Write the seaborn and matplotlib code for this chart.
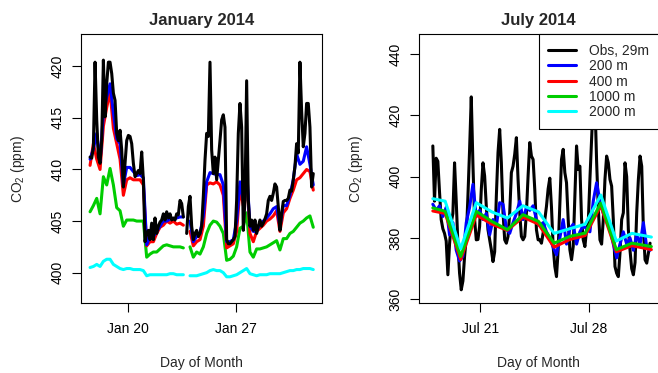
import numpy as np
import pandas as pd
import matplotlib
matplotlib.use('Agg')
import matplotlib.pyplot as plt
from matplotlib.lines import Line2D
import seaborn as sns

sns.set_style('ticks')
plt.rcParams['font.family'] = ['Liberation Sans', 'DejaVu Sans']
plt.rcParams['mathtext.fontset'] = 'custom'
plt.rcParams['mathtext.rm'] = 'Liberation Sans'
plt.rcParams['mathtext.it'] = 'Liberation Sans:italic'
plt.rcParams['mathtext.bf'] = 'Liberation Sans:bold'
plt.rcParams['lines.solid_capstyle'] = 'round'
plt.rcParams['lines.solid_joinstyle'] = 'round'

nan = np.nan
SERIES = ['Obs, 29m', '200 m', '400 m', '1000 m', '2000 m']
COLORS = ['#000000', '#0000FF', '#FF0000', '#00CD00', '#00FFFF']

# January 2014, obs about every 2.6 h, model lines about every 5 h
JAN_START, JAN_END = '2014-01-17 14:00', '2014-01-31 23:00'
JAN_OBS = [411.2, 411.1, 412.2, 420.4, 414.8, 411.2, 410.6, 412.8, 420.6, 415.1,
           418.3, 420.4, 420.4, 419.3, 417.4, 416.7, 413.5, 412.8, 413.8, 411.9,
           408.3, 410.6, 412.8, 413.3, 413.2, 412.5, 410.6, 409.3, 409.6, 409.9,
           409.6, 411.7, 409.0, 403.0, 403.8, 404.1, 403.2, 404.8, 403.2, 405.3,
           403.8, 404.5, 404.9, 405.1, 405.7, 405.1, 405.9, 405.3, 405.7, 405.1,
           405.3, 405.1, 405.7, 405.6, 407.0, 406.7, 405.4, nan, 403.8, 406.4,
           407.4, 404.5, 403.2, 403.8, 404.1, 403.5, 403.8, 404.5, 407.4, 410.9,
           413.5, 413.2, 420.4, 411.9, 409.6, 411.2, 409.0, 410.9, 412.8, 414.8,
           415.3, 414.1, 403.2, 402.8, 402.8, 403.0, 403.2, 403.5, 407.0, 413.5,
           416.4, 414.1, 404.1, 407.0, 418.6, 407.0, 404.5, 405.1, 404.1, 405.1,
           403.8, 404.5, 405.1, 404.5, 404.8, 405.2, 405.7, 407.0, 407.4, 407.0,
           407.7, 408.6, 408.3, 406.4, 404.1, 405.7, 406.9, 407.0, 407.0, 407.2,
           408.0, 407.9, 409.0, 410.3, 412.5, 411.6, 420.4, 415.7, 412.2, 413.5,
           416.4, 416.4, 414.1, 408.3, 409.6]
JAN_200 = [411.0, 412.0, 413.5, 410.7, 415.5, 417.0, 418.3, 415.5, 413.0, 412.5,
           408.5, 410.2, 410.2, 409.8, 409.4, 409.5, 409.2, 402.7, 403.5, 403.5,
           404.0, 404.5, 405.0, 405.0, 405.2, 405.2, 405.3, 405.4, 405.4, nan,
           405.0, 403.0, 403.5, 403.8, 405.5, 408.8, 409.7, 409.6, 409.5, 409.5,
           408.5, 403.0, 403.0, 403.2, 405.0, 408.8, 407.0, 410.0, 404.5, 404.0,
           404.0, 404.8, 405.0, 405.3, 405.7, 406.2, 406.4, 404.5, 406.5, 406.5,
           407.5, 409.0, 411.5, 410.5, 410.8, 412.2, 410.5, 408.5]
JAN_400 = [410.4, 412.5, 411.0, 410.0, 414.2, 416.0, 417.6, 414.0, 412.5, 411.0,
           407.5, 409.0, 409.2, 409.0, 409.0, 409.0, 408.5, 402.6, 403.0, 403.0,
           403.8, 404.4, 404.6, 405.0, 404.8, 405.0, 404.7, 404.8, 404.6, nan,
           404.0, 402.6, 403.0, 403.2, 404.5, 408.5, 408.7, 408.6, 408.8, 408.5,
           407.5, 402.4, 402.6, 402.8, 404.0, 408.2, 406.5, 409.5, 403.8, 403.0,
           404.0, 404.3, 404.6, 405.0, 405.2, 405.5, 406.0, 404.0, 405.8, 406.2,
           407.2, 408.0, 409.0, 409.2, 409.6, 410.0, 409.8, 408.0]
JAN_1000 = [405.9, 406.5, 407.2, 405.7, 409.3, 408.5, 410.1, 408.5, 406.3, 406.0,
            404.5, 405.1, 405.1, 405.1, 405.0, 405.0, 405.0, 401.5, 401.8, 402.0,
            402.0, 402.3, 402.6, 402.7, 402.6, 402.5, 402.5, 402.5, 402.4, nan,
            402.5, 401.5, 402.0, 401.8, 402.5, 403.8, 404.6, 405.0, 404.9, 404.5,
            403.8, 401.2, 401.3, 401.6, 402.5, 404.3, 404.5, 405.8, 402.0, 401.5,
            402.3, 402.3, 402.4, 402.5, 402.7, 402.9, 403.1, 402.2, 403.3, 403.3,
            403.8, 404.0, 404.4, 404.8, 405.0, 405.3, 405.5, 404.4]
JAN_2000 = [400.5, 400.6, 400.8, 400.6, 401.1, 401.3, 401.3, 400.8, 400.6, 400.4,
            400.3, 400.4, 400.4, 400.3, 400.3, 400.3, 400.2, 399.7, 399.8, 399.8,
            399.8, 399.8, 399.8, 399.8, 399.9, 399.9, 399.8, 399.8, 399.8, nan,
            399.7, 399.7, 399.7, 399.8, 399.9, 400.0, 400.2, 400.3, 400.2, 400.2,
            400.0, 399.6, 399.6, 399.7, 399.8, 400.0, 400.2, 400.4, 399.9, 399.8,
            399.7, 399.8, 399.8, 399.8, 399.9, 399.9, 399.9, 399.9, 400.0, 400.1,
            400.2, 400.2, 400.3, 400.3, 400.4, 400.4, 400.4, 400.3]

# July 2014
JUL_START, JUL_END = '2014-07-17 23:00', '2014-07-31 22:00'
JUL_OBS = [410.0, 392.0, 406.0, 405.0, 395.0, 386.0, 383.0, 381.5, 379.0, 368.0,
           378.0, 385.0, 388.0, 404.5, 392.0, 378.0, 368.5, 363.1, 366.0, 374.0,
           380.0, 393.6, 408.9, 426.0, 404.0, 386.0, 379.4, 379.5, 383.8, 395.8,
           404.5, 400.2, 390.3, 382.7, 379.4, 376.2, 372.3, 375.5, 393.6, 407.8,
           415.4, 404.5, 388.2, 379.4, 378.3, 380.5, 388.2, 401.3, 403.4, 407.3,
           412.7, 399.1, 388.2, 380.5, 379.4, 380.5, 388.2, 400.2, 411.1, 406.7,
           405.6, 395.8, 382.7, 379.4, 379.4, 378.3, 381.6, 386.0, 390.3, 396.0,
           399.5, 390.0, 377.2, 370.7, 367.4, 376.2, 391.4, 405.6, 408.9, 401.3,
           398.0, 386.0, 376.2, 372.9, 377.2, 393.6, 410.0, 402.3, 403.4, 386.0,
           379.4, 377.2, 382.7, 384.9, 399.1, 412.2, 425.0, 425.0, 405.0, 390.0,
           379.4, 378.0, 386.0, 399.1, 406.7, 404.5, 399.1, 396.9, 386.0, 370.7,
           368.5, 367.4, 375.1, 386.0, 388.2, 404.5, 400.0, 382.7, 376.0, 370.0,
           368.0, 372.0, 388.2, 399.1, 406.7, 403.4, 382.7, 372.9, 371.8, 375.1,
           378.3]
JUL_200 = [391.0, 389.0, 390.5, 387.0, 390.0, 381.0, 385.0, 376.0, 372.5, 374.0,
           385.0, 390.0, 397.5, 387.0, 389.0, 386.0, 388.0, 381.0, 386.0, 384.0,
           391.5, 391.0, 383.0, 381.5, 385.0, 388.0, 392.0, 386.0, 390.0, 389.0,
           390.5, 386.0, 384.0, 385.0, 382.0, 380.0, 377.0, 374.5, 380.0, 386.0,
           378.0, 383.0, 384.5, 378.0, 382.0, 384.0, 383.0, 382.0, 392.0, 398.0,
           392.0, 388.0, 386.0, 383.0, 378.0, 373.5, 378.0, 382.0, 378.0, 380.0,
           376.0, 381.0, 378.0, 385.0, 377.0, 376.0]
# the deeper model levels only change once a day (18:00)
JUL_DAILY_TIMES = (['2014-07-17 23:00']
                   + [d.strftime('%Y-%m-%d %H:%M')
                      for d in pd.date_range('2014-07-18 18:00', periods=13, freq='D')]
                   + ['2014-08-01 00:00'])
JUL_400 = [388.8, 388.0, 373.0, 387.5, 384.5, 382.5, 386.8, 384.5, 377.0, 379.5,
           380.8, 390.5, 375.5, 377.5, 376.2]
JUL_1000 = [389.8, 388.7, 374.0, 388.7, 385.4, 382.7, 387.6, 385.4, 378.3, 380.5,
            381.6, 391.4, 376.2, 378.3, 377.2]
JUL_2000 = [392.8, 392.0, 376.5, 391.5, 388.5, 386.5, 390.5, 388.5, 381.5, 383.0,
            384.5, 394.0, 379.0, 381.5, 380.3]


def to_frame(values, name, start=None, end=None, times=None):
    if times is None:
        times = pd.date_range(start, end, periods=len(values))
    v = pd.Series(values, dtype=float)
    df = pd.DataFrame({'time': pd.to_datetime(times, format='ISO8601'), 'co2': v.values,
                       'series': name, 'seg': v.isna().cumsum().values})
    return df.dropna()


def style_axis(ax, xlim, ylim, xticks, xticklabels, yticks):
    ax.set_xlim(pd.Timestamp(xlim[0]), pd.Timestamp(xlim[1]))
    ax.set_ylim(*ylim)
    ax.set_xticks([pd.Timestamp(t) for t in xticks])
    ax.set_xticklabels(xticklabels)
    ax.set_yticks(yticks)
    for s in ax.spines.values():
        s.set_color('black')
        s.set_linewidth(0.8)
    ax.tick_params(axis='both', direction='out', length=6.5, width=0.8,
                   colors='black', labelsize=10)
    ax.tick_params(axis='x', pad=7.4)
    ax.tick_params(axis='y', pad=5.6, labelrotation=90)
    for lab in ax.get_yticklabels():
        lab.set_va('center')
    ax.set_xlabel('Day of Month', fontsize=10)
    ax.xaxis.set_label_coords(0.5, -0.238)
    ax.xaxis.label.set_va('baseline')
    ax.set_ylabel('CO$_2$ (ppm)', fontsize=10)
    ax.yaxis.label.set_va('baseline')


def main():
    palette = dict(zip(SERIES, COLORS))
    fig = plt.figure(figsize=(6.58, 3.73), dpi=100)
    ax1 = fig.add_axes([81 / 658, 1 - 303 / 373, 241 / 658, 269 / 373])
    ax2 = fig.add_axes([419 / 658, 1 - 303 / 373, 239.5 / 658, 269 / 373])

    jan = pd.concat([to_frame(JAN_OBS, SERIES[0], JAN_START, JAN_END),
                     to_frame(JAN_200, SERIES[1], JAN_START, JAN_END),
                     to_frame(JAN_400, SERIES[2], JAN_START, JAN_END),
                     to_frame(JAN_1000, SERIES[3], JAN_START, JAN_END),
                     to_frame(JAN_2000, SERIES[4], JAN_START, JAN_END)])
    sns.lineplot(data=jan, x='time', y='co2', hue='series', hue_order=SERIES[::-1],
                 palette=palette, units='seg', estimator=None, linewidth=2.2,
                 legend=False, ax=ax1)

    jul = pd.concat([to_frame(JUL_OBS, SERIES[0], JUL_START, JUL_END),
                     to_frame(JUL_200, SERIES[1], JUL_START, JUL_END),
                     to_frame(JUL_400, SERIES[2], times=JUL_DAILY_TIMES),
                     to_frame(JUL_1000, SERIES[3], times=JUL_DAILY_TIMES),
                     to_frame(JUL_2000, SERIES[4], times=JUL_DAILY_TIMES)])
    sns.lineplot(data=jul, x='time', y='co2', hue='series', hue_order=SERIES,
                 palette=palette, units='seg', estimator=None, linewidth=2.2,
                 legend=False, ax=ax2)

    style_axis(ax1, ('2014-01-17 00:00', '2014-02-01 12:30'), (397.06, 423.13),
               ['2014-01-20', '2014-01-27'], ['Jan 20', 'Jan 27'],
               [400, 405, 410, 415, 420])
    style_axis(ax2, ('2014-07-17 01:40', '2014-08-01 11:00'), (358.8, 446.5),
               ['2014-07-21', '2014-07-28'], ['Jul 21', 'Jul 28'],
               [360, 380, 400, 420, 440])
    ax1.yaxis.set_label_coords(-0.243, 0.5)
    ax2.yaxis.set_label_coords(-0.248, 0.5)

    for ax, title in [(ax1, 'January 2014'), (ax2, 'July 2014')]:
        ax.text(0.5, 1.0327, title, transform=ax.transAxes, ha='center',
                va='baseline', fontsize=12, fontweight='bold')

    handles = [Line2D([], [], color=c, linewidth=2.2) for c in COLORS]
    leg = ax2.legend(handles, SERIES, loc='upper right', borderaxespad=0,
                     fontsize=10, frameon=True, fancybox=False, framealpha=1,
                     edgecolor='black', handlelength=2.0, handletextpad=0.92,
                     labelspacing=0.1, borderpad=0.7)
    leg.get_frame().set_linewidth(0.8)

    fig.savefig('out.png', dpi=100)


if __name__ == '__main__':
    main()
